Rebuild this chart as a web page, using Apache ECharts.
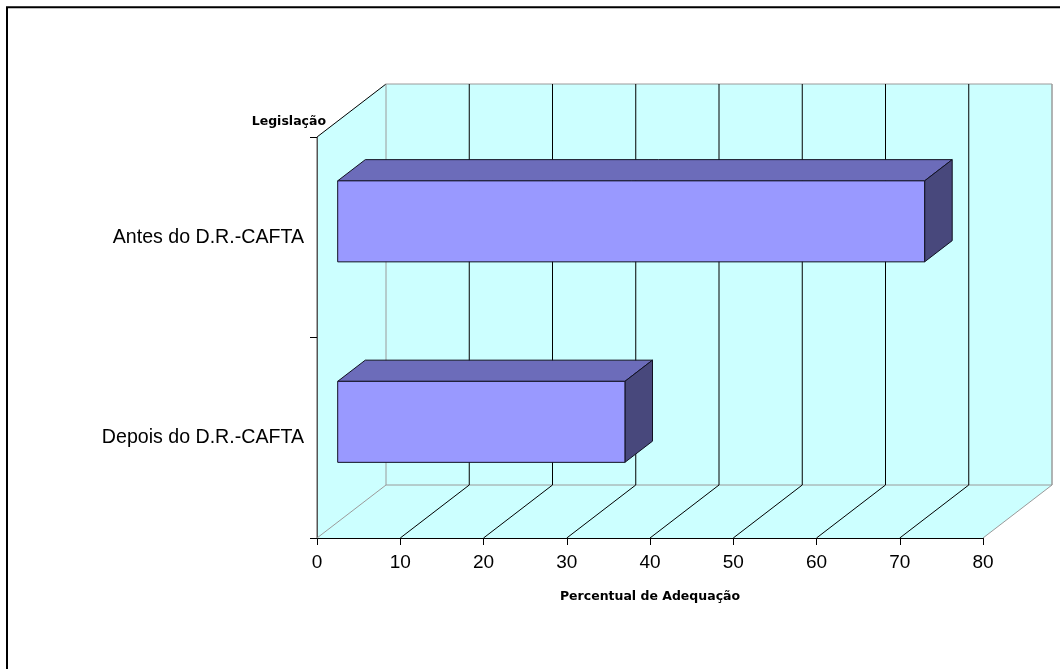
<!DOCTYPE html>
<html>
<head>
<meta charset="utf-8">
<title>Percentual de Adequação</title>
<script src="https://cdn.jsdelivr.net/npm/echarts@6/dist/echarts.min.js"></script>
<style>
  html, body { margin: 0; padding: 0; background: #ffffff; }
  #chart { width: 1060px; height: 669px; }
</style>
</head>
<body>
<div id="chart"></div>
<script>
// Categories (top to bottom) and their adequacy percentages
const CATEGORIES = ['Antes do D.R.-CAFTA', 'Depois do D.R.-CAFTA'];
const VALUES = [70.5, 34.5];
// Value axis ticks
const TICKS = [0, 10, 20, 30, 40, 50, 60, 70, 80];

// 3D look: depth offset of the back wall, in pixels
const DX = 69, DY = -53;
// Bars sit between these fractions of the depth
const BAR_FRONT = 0.3, BAR_BACK = 0.7;
const BAR_HEIGHT_RATIO = 0.404;

const WALL_FILL = '#CCFFFF';
const EDGE_GRAY = '#9a9a9a';
const FONT = '"Liberation Sans", Arial, sans-serif';
const NAME_FONT = '"DejaVu Sans", Verdana, sans-serif';

const chart = echarts.init(document.getElementById('chart'), null, { renderer: 'canvas' });

function line(x1, y1, x2, y2, color) {
  return {
    type: 'line',
    shape: { x1, y1, x2, y2 },
    style: { stroke: color, lineWidth: 1 }
  };
}

// Side wall, back wall and floor of the plot box
function renderWalls(params, api) {
  const r = params.coordSys;
  const x = r.x, y = r.y, w = r.width, h = r.height;
  const fill = { fill: WALL_FILL, stroke: null };
  return {
    type: 'group',
    children: [
      { type: 'polygon', shape: { points: [[x, y], [x + DX, y + DY], [x + DX, y + h + DY], [x, y + h]] }, style: fill },
      { type: 'rect', shape: { x: x + DX, y: y + DY, width: w, height: h }, style: fill },
      { type: 'polygon', shape: { points: [[x, y + h], [x + w, y + h], [x + w + DX, y + h + DY], [x + DX, y + h + DY]] }, style: fill },
      line(x, y, x + DX, y + DY, '#000'),
      line(x + DX, y + DY, x + w + DX, y + DY, EDGE_GRAY),
      line(x + w + DX, y + DY, x + w + DX, y + h + DY, EDGE_GRAY),
      line(x + DX, y + h + DY, x + w + DX, y + h + DY, EDGE_GRAY),
      line(x, y, x, y + h, '#555')
    ]
  };
}

// Grid line on the back wall plus its diagonal across the floor, per tick
function renderGrid(params, api) {
  const r = params.coordSys;
  const t = api.value(0);
  const px = api.coord([t, 0])[0];
  const edge = (t === TICKS[0] || t === TICKS[TICKS.length - 1]);
  const color = edge ? EDGE_GRAY : '#000';
  const yTop = r.y + DY, yBot = r.y + r.height + DY;
  return {
    type: 'group',
    children: [
      line(px + DX, yTop, px + DX, yBot, color),
      line(px, r.y + r.height, px + DX, yBot, color)
    ]
  };
}

// Box-shaped bar: front, top and side faces
function renderBar(params, api) {
  const v = api.value(0);
  const c = api.value(1);
  const p0 = api.coord([0, c]);
  const p1 = api.coord([v, c]);
  const h = api.size([0, 1])[1] * BAR_HEIGHT_RATIO;
  const fx = DX * BAR_FRONT, fy = DY * BAR_FRONT;
  const bx = DX * BAR_BACK, by = DY * BAR_BACK;
  const x0 = p0[0] + fx, x1 = p1[0] + fx;
  const yT = p0[1] + fy - h / 2, yB = p0[1] + fy + h / 2;
  const ox = bx - fx, oy = by - fy;
  const stroke = '#111122';
  return {
    type: 'group',
    children: [
      {
        type: 'polygon',
        shape: { points: [[x0, yT], [x1, yT], [x1 + ox, yT + oy], [x0 + ox, yT + oy]] },
        style: { fill: '#6C6CBA', stroke, lineWidth: 1 }
      },
      {
        type: 'polygon',
        shape: { points: [[x1, yT], [x1 + ox, yT + oy], [x1 + ox, yB + oy], [x1, yB]] },
        style: { fill: '#48487C', stroke, lineWidth: 1 }
      },
      {
        type: 'rect',
        shape: { x: x0, y: yT, width: x1 - x0, height: yB - yT },
        style: { fill: '#9999FF', stroke, lineWidth: 1 }
      }
    ]
  };
}

const option = {
  animation: false,
  backgroundColor: '#ffffff',
  grid: { left: 317, right: 77, top: 137, bottom: 131, containLabel: false },
  xAxis: {
    type: 'value',
    min: 0,
    max: 80,
    interval: 10,
    name: 'Percentual de Adequação',
    nameLocation: 'middle',
    nameGap: 52,
    nameTextStyle: { fontFamily: NAME_FONT, fontWeight: 'bold', fontSize: 12.5, color: '#000' },
    axisLine: { show: true, lineStyle: { color: '#000', width: 1 } },
    axisTick: { show: true, length: 7, lineStyle: { color: '#000' } },
    axisLabel: {
      fontFamily: FONT, fontSize: 19, color: '#000', margin: 15,
      formatter: (v) => String(v)
    },
    splitLine: { show: false }
  },
  yAxis: {
    type: 'category',
    data: CATEGORIES,
    inverse: true,
    name: 'Legislação',
    nameLocation: 'start',
    nameGap: 9,
    nameTextStyle: {
      fontFamily: NAME_FONT, fontWeight: 'bold', fontSize: 12.5, color: '#000',
      align: 'right', padding: [0, -9, 0, 0]
    },
    axisLine: { show: true, lineStyle: { color: '#555', width: 1 } },
    axisTick: { show: true, length: 7, lineStyle: { color: '#000' } },
    axisLabel: { fontFamily: FONT, fontSize: 19.6, color: '#000', margin: 13, padding: [6, 0, 0, 0] },
    splitLine: { show: false }
  },
  graphic: [
    {
      type: 'rect',
      shape: { x: 7, y: 7.3, width: 1200, height: 800 },
      style: { fill: null, stroke: '#000', lineWidth: 2 },
      silent: true,
      z: 100
    }
  ],
  series: [
    {
      type: 'custom',
      name: 'walls',
      clip: false,
      silent: true,
      z: 0,
      renderItem: renderWalls,
      encode: { x: 0 },
      data: [[TICKS[0]]]
    },
    {
      type: 'custom',
      name: 'grid',
      clip: false,
      silent: true,
      z: 1,
      renderItem: renderGrid,
      encode: { x: 0 },
      data: TICKS.map(t => [t])
    },
    {
      type: 'custom',
      name: 'Percentual de Adequação',
      clip: false,
      z: 2,
      renderItem: renderBar,
      encode: { x: 0, y: 1 },
      data: VALUES.map((v, i) => [v, i])
    }
  ]
};

chart.setOption(option);
</script>
</body>
</html>
